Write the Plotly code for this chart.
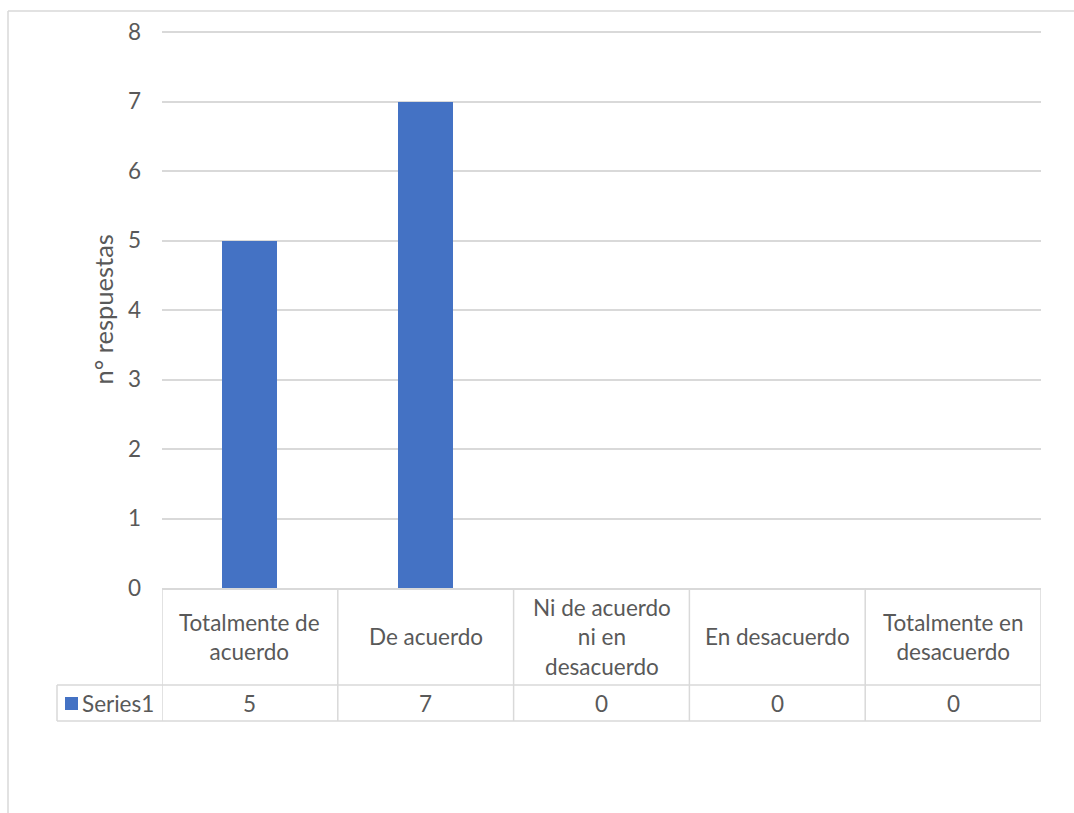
import plotly.graph_objects as go

# Survey answers and response counts
categories = [
    "Totalmente de acuerdo",
    "De acuerdo",
    "Ni de acuerdo ni en desacuerdo",
    "En desacuerdo",
    "Totalmente en desacuerdo",
]
category_labels = [
    "Totalmente de<br>acuerdo",
    "De acuerdo",
    "Ni de acuerdo<br>ni en<br>desacuerdo",
    "En desacuerdo",
    "Totalmente en<br>desacuerdo",
]
series_name = "Series1"
values = [5, 7, 0, 0, 0]
y_ticks = [0, 1, 2, 3, 4, 5, 6, 7, 8]
y_max = 8

W, H = 1074, 813
BLUE = "#4472C4"
GRID = "#d9d9d9"
TEXT = "#595959"
FONT = "Lato"
FS = 22.5
TITLE_FS = 25.5


def px(x):
    return x / W


def py(y):
    return 1 - y / H


# plot area in pixels (top pad keeps the topmost gridline inside the clip)
left, right, top, bottom = 162, 1041, 32, 588
unit = (bottom - top) / y_max
pad = 0.02
row1_bottom, row2_bottom = 685, 721
legend_left = 57

fig = go.Figure()
fig.add_trace(go.Bar(
    x=list(range(len(categories))),
    y=values,
    name=series_name,
    marker=dict(color=BLUE, line=dict(width=0)),
    width=0.313,
    hoverinfo="skip",
    showlegend=False,
))

shapes = []
line = dict(color=GRID, width=1.5)
# outer chart border (top and left edges visible)
shapes.append(dict(type="line", xref="paper", yref="paper",
                   x0=px(8), x1=1, y0=py(11), y1=py(11), line=line))
shapes.append(dict(type="line", xref="paper", yref="paper",
                   x0=px(8), x1=px(8), y0=0, y1=py(11), line=line))
# data table: vertical separators at category boundaries
for i in range(len(categories) + 1):
    shapes.append(dict(type="line", xref="x", yref="paper",
                       x0=i - 0.5, x1=i - 0.5, y0=py(row2_bottom), y1=py(bottom),
                       line=line))
# data table: horizontal rules
for yy in (row1_bottom, row2_bottom):
    shapes.append(dict(type="line", xref="paper", yref="paper",
                       x0=px(legend_left), x1=px(right), y0=py(yy), y1=py(yy),
                       line=line))
shapes.append(dict(type="line", xref="paper", yref="paper",
                   x0=px(legend_left), x1=px(legend_left), y0=py(row2_bottom), y1=py(row1_bottom),
                   line=line))
# legend key
shapes.append(dict(type="rect", xref="paper", yref="paper",
                   x0=px(65), x1=px(78), y0=py(710), y1=py(697),
                   fillcolor=BLUE, line=dict(width=0)))

annotations = []
for i, lab in enumerate(category_labels):
    annotations.append(dict(x=i, xref="x", y=py((bottom + row1_bottom) / 2), yref="paper",
                            text=lab, showarrow=False, xanchor="center", yanchor="middle",
                            font=dict(family=FONT, size=FS, color=TEXT)))
for i, v in enumerate(values):
    annotations.append(dict(x=i, xref="x", y=py((row1_bottom + row2_bottom) / 2), yref="paper",
                            text=str(v), showarrow=False, xanchor="center", yanchor="middle",
                            font=dict(family=FONT, size=FS, color=TEXT)))
annotations.append(dict(x=px(80), xref="paper", y=py((row1_bottom + row2_bottom) / 2), yref="paper",
                        text=series_name, showarrow=False, xanchor="left", yanchor="middle",
                        font=dict(family=FONT, size=FS, color=TEXT)))

fig.update_layout(
    width=W, height=H,
    margin=dict(l=0, r=0, t=0, b=0, pad=0, autoexpand=False),
    paper_bgcolor="white", plot_bgcolor="white",
    font=dict(family=FONT, size=FS, color=TEXT),
    bargap=0,
    xaxis=dict(domain=[px(left), px(right)], range=[-0.5, len(categories) - 0.5],
               showticklabels=False, showgrid=False, zeroline=False, automargin=False,
               showline=True, linecolor=GRID, linewidth=1.5, ticks=""),
    yaxis=dict(domain=[py(bottom), py(top - pad * unit)], range=[0, y_max + pad],
               tickvals=y_ticks,
               showgrid=True, gridcolor=GRID, gridwidth=1.5, zeroline=False,
               showline=False, ticks="", ticklabelstandoff=20, automargin=False,
               tickfont=dict(family=FONT, size=FS, color=TEXT),
               title=dict(text="n° respuestas", standoff=7,
                          font=dict(family=FONT, size=TITLE_FS, color=TEXT))),
    shapes=shapes,
    annotations=annotations,
)

fig.write_html("out.html")
